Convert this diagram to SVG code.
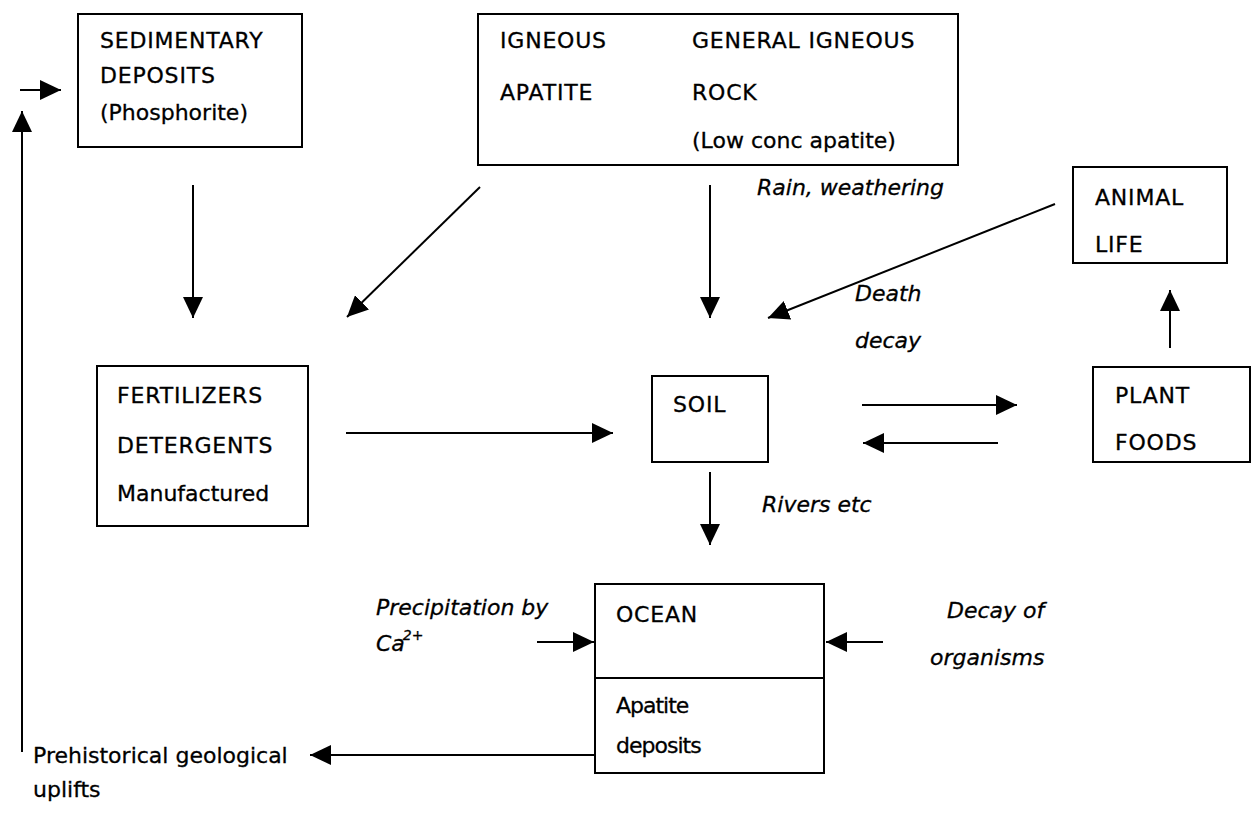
<svg xmlns="http://www.w3.org/2000/svg" width="1253" height="819" viewBox="0 0 1253 819">
<style>
.box{fill:#fff;stroke:#000;stroke-width:2}
.t{font-family:"DejaVu Sans","Liberation Sans",sans-serif;font-size:22px;fill:#000;stroke:#000;stroke-width:0.3}
.u{letter-spacing:0.8px}
.i{font-family:"DejaVu Sans","Liberation Sans",sans-serif;font-size:22px;font-style:italic;fill:#000;stroke:#000;stroke-width:0.3}
.c{stroke:#000;stroke-width:2;fill:none;marker-end:url(#ah)}
</style>
<defs>
<marker id="ah" markerUnits="userSpaceOnUse" markerWidth="22" markerHeight="20" refX="21" refY="10" orient="auto">
<path d="M0,0 L21,10 L0,20 Z" fill="#000"/>
</marker>
</defs>
<rect width="1253" height="819" fill="#fff"/>
<g id="sedimentary">
<rect class="box" x="78" y="14" width="224" height="133"/>
<text class="t u" x="100" y="48">SEDIMENTARY</text>
<text class="t u" x="100" y="83">DEPOSITS</text>
<text class="t" x="100" y="120">(Phosphorite)</text>
</g>
<g id="igneous">
<rect class="box" x="478" y="14" width="480" height="151"/>
<text class="t u" x="500" y="48">IGNEOUS</text>
<text class="t u" x="692" y="48">GENERAL IGNEOUS</text>
<text class="t u" x="500" y="100">APATITE</text>
<text class="t u" x="692" y="100">ROCK</text>
<text class="t" x="692" y="148">(Low conc apatite)</text>
</g>
<g id="animal">
<rect class="box" x="1073" y="167" width="154" height="96"/>
<text class="t u" x="1095" y="205">ANIMAL</text>
<text class="t u" x="1095" y="252">LIFE</text>
</g>
<g id="fertilizers">
<rect class="box" x="97" y="366" width="211" height="160"/>
<text class="t u" x="117" y="403">FERTILIZERS</text>
<text class="t u" x="117" y="453">DETERGENTS</text>
<text class="t" x="117" y="501">Manufactured</text>
</g>
<g id="soil">
<rect class="box" x="652" y="376" width="116" height="86"/>
<text class="t u" x="673" y="412">SOIL</text>
</g>
<g id="plant">
<rect class="box" x="1093" y="367" width="157" height="95"/>
<text class="t u" x="1115" y="403">PLANT</text>
<text class="t u" x="1115" y="450">FOODS</text>
</g>
<g id="ocean">
<rect class="box" x="595" y="584" width="229" height="189"/>
<line x1="595" y1="678" x2="824" y2="678" stroke="#000" stroke-width="2"/>
<text class="t u" x="616" y="622">OCEAN</text>
<text class="t" x="616" y="713" letter-spacing="-1">Apatite</text>
<text class="t" x="616" y="753" letter-spacing="-1">deposits</text>
</g>
<g id="uplifts">
<text class="t" x="33" y="763">Prehistorical geological</text>
<text class="t" x="33" y="797">uplifts</text>
</g>
<g id="labels">
<text class="i" x="757" y="195">Rain, weathering</text>
<text class="i" x="855" y="301">Death</text>
<text class="i" x="855" y="348">decay</text>
<text class="i" x="762" y="512">Rivers etc</text>
<text class="i" x="376" y="615">Precipitation by</text>
<text class="i" x="376" y="651">Ca<tspan font-size="14" dx="-2" dy="-11">2+</tspan></text>
<text class="i" x="947" y="618">Decay of</text>
<text class="i" x="930" y="665">organisms</text>
</g>
<g id="connectors">
<line class="c" x1="20" y1="90" x2="61" y2="90"/>
<line class="c" x1="22" y1="752" x2="22" y2="111"/>
<line class="c" x1="193" y1="185" x2="193" y2="318"/>
<line class="c" x1="480" y1="187" x2="347" y2="317"/>
<line class="c" x1="710" y1="185" x2="710" y2="318"/>
<line class="c" x1="1055" y1="204" x2="768" y2="318"/>
<line class="c" x1="346" y1="433" x2="613" y2="433"/>
<line class="c" x1="862" y1="405" x2="1017" y2="405"/>
<line class="c" x1="998" y1="443" x2="863" y2="443"/>
<line class="c" x1="1170" y1="348" x2="1170" y2="290"/>
<line class="c" x1="710" y1="472" x2="710" y2="545"/>
<line class="c" x1="537" y1="642" x2="594" y2="642"/>
<line class="c" x1="883" y1="642" x2="826" y2="642"/>
<line class="c" x1="595" y1="755" x2="310" y2="755"/>
</g>
</svg>
